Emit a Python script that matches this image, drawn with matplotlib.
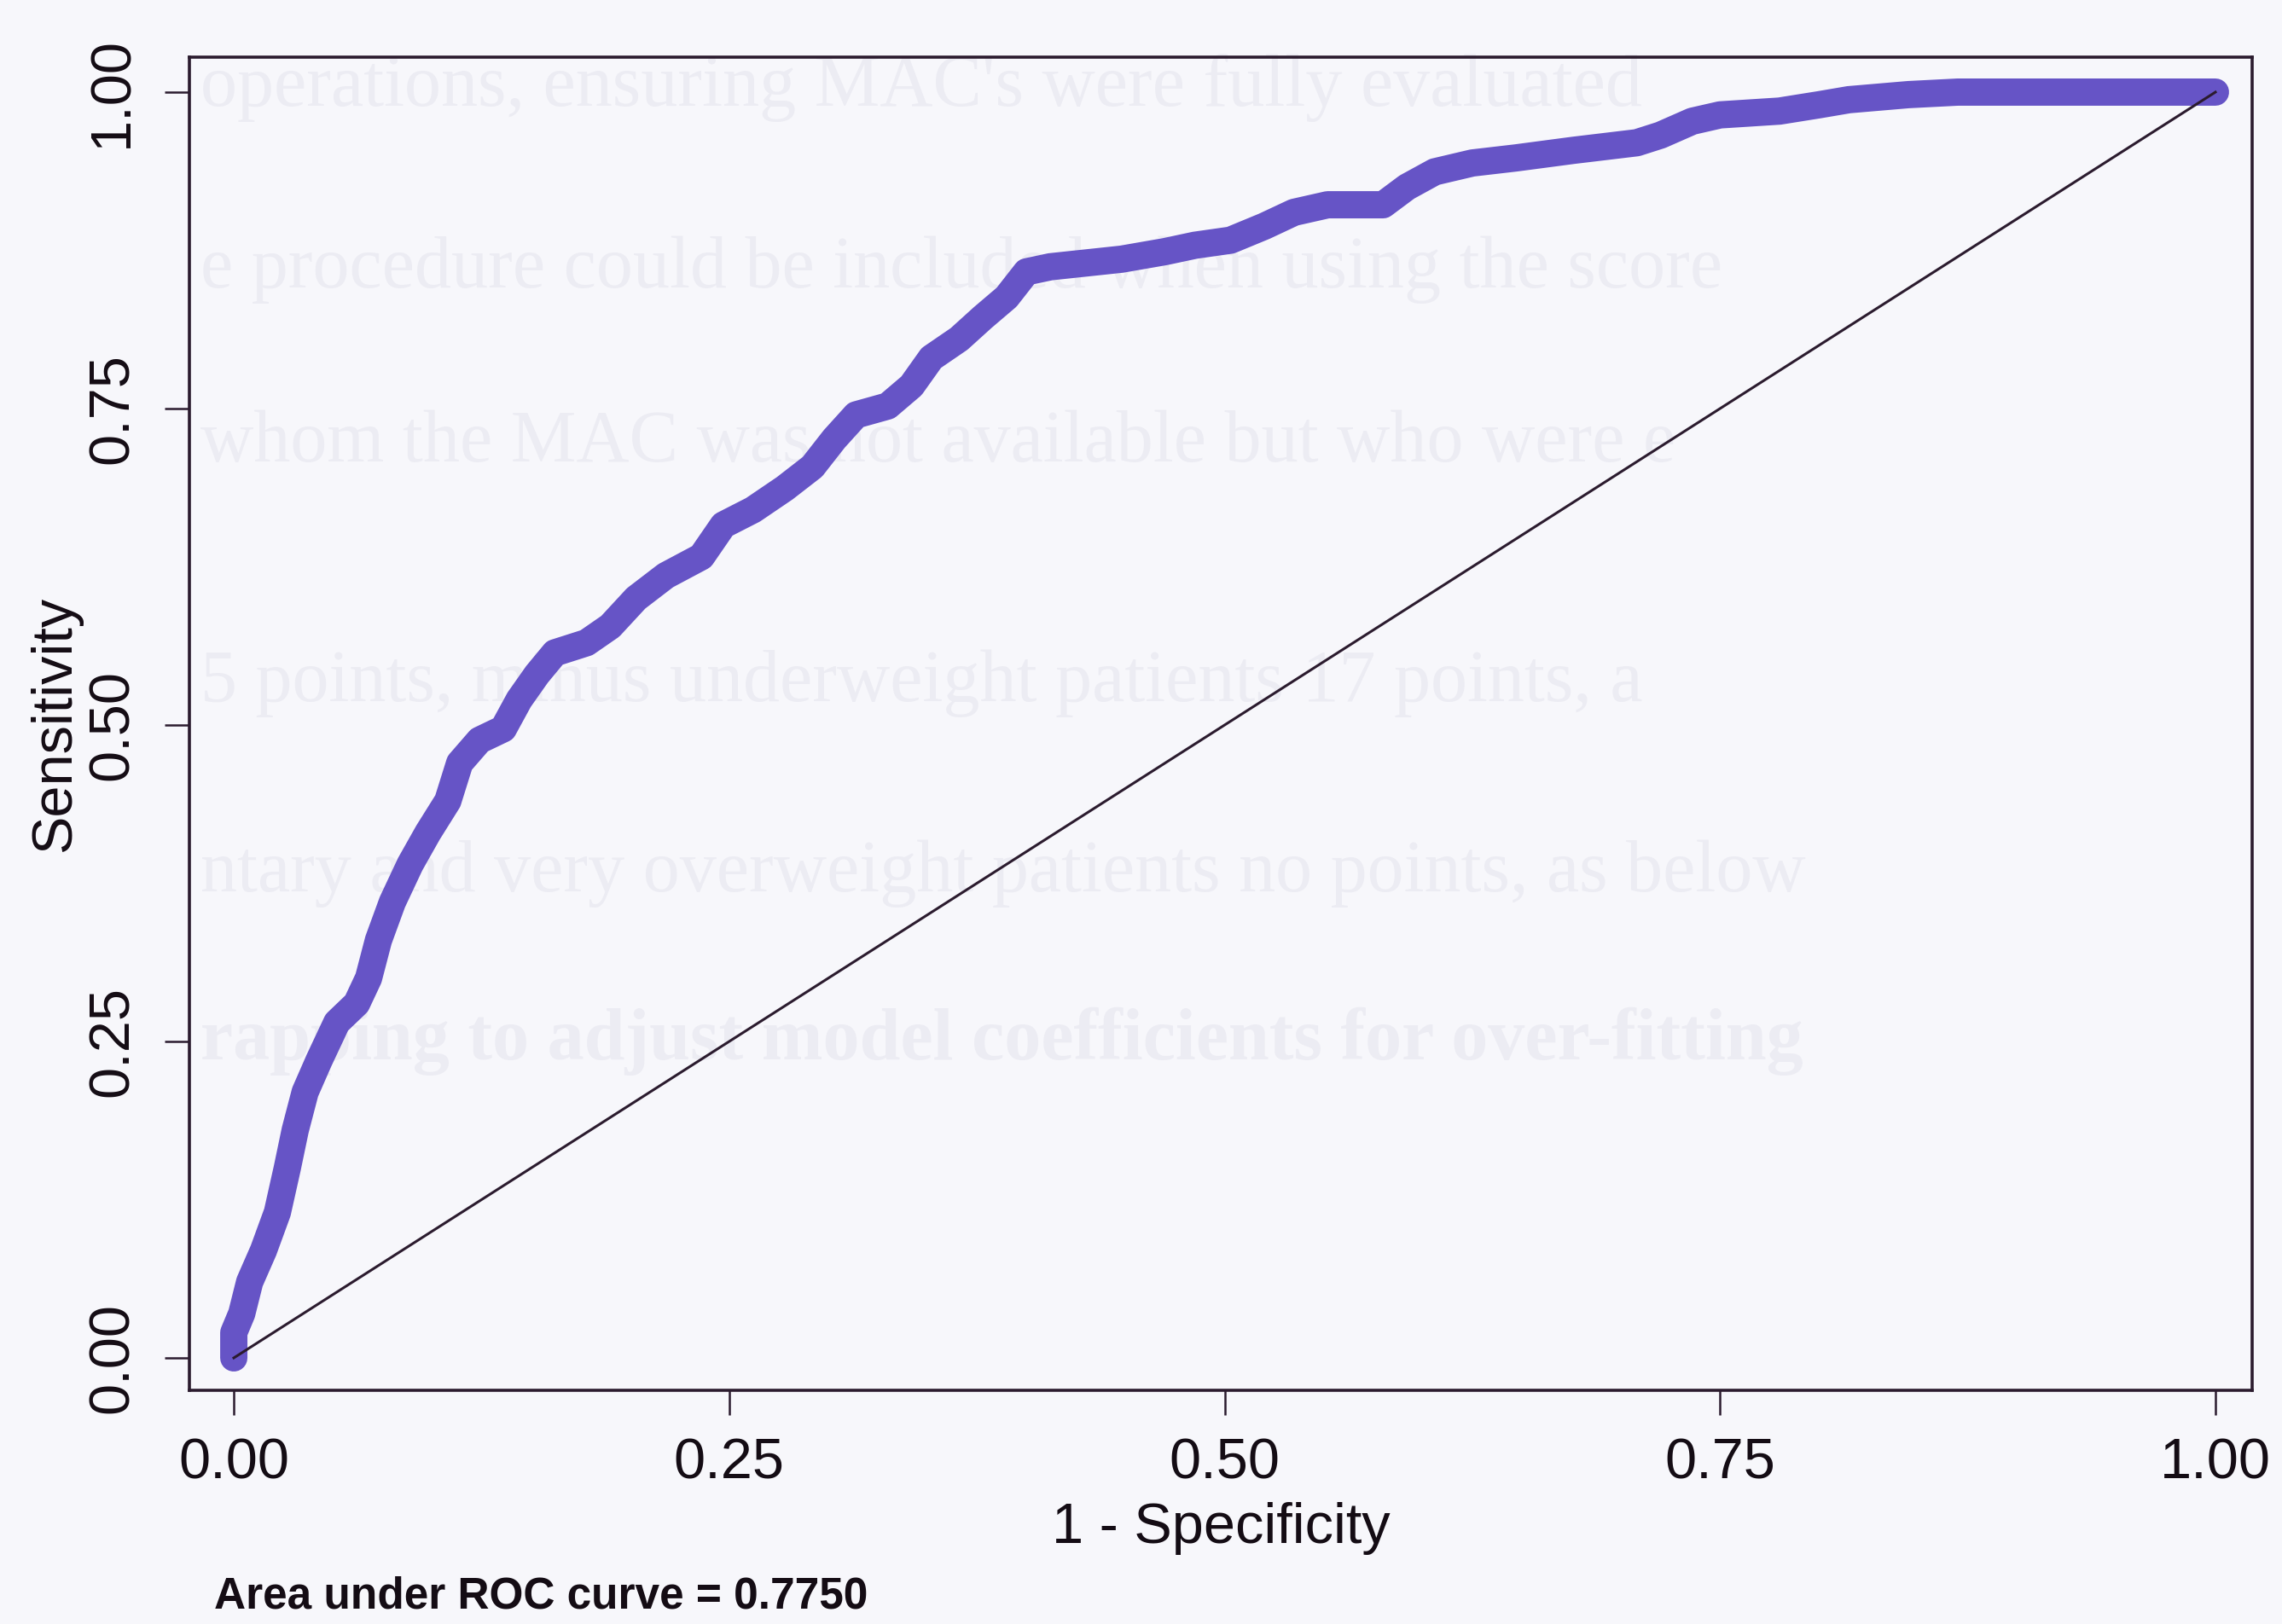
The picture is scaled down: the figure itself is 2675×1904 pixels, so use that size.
import matplotlib
matplotlib.use('Agg')
import matplotlib.pyplot as plt

# ── Data ──────────────────────────────────────────────────────────────────────
fpr = [0.000, 0.000, 0.004, 0.008, 0.015, 0.022, 0.027, 0.031, 0.036, 0.043,
       0.052, 0.062, 0.068, 0.073, 0.080, 0.089, 0.098, 0.108, 0.114, 0.124,
       0.136, 0.144, 0.153, 0.162, 0.178, 0.190, 0.203, 0.218, 0.236, 0.247,
       0.262, 0.278, 0.292, 0.303, 0.314, 0.330, 0.342, 0.352, 0.366, 0.378,
       0.390, 0.400, 0.412, 0.430, 0.448, 0.470, 0.485, 0.503, 0.520, 0.535,
       0.552, 0.580, 0.592, 0.606, 0.625, 0.647, 0.676, 0.708, 0.720, 0.736,
       0.750, 0.780, 0.800, 0.815, 0.845, 0.870, 0.920, 0.960, 1.000]
tpr = [0.000, 0.020, 0.035, 0.060, 0.085, 0.115, 0.150, 0.180, 0.210, 0.235,
       0.265, 0.280, 0.300, 0.330, 0.360, 0.390, 0.415, 0.440, 0.470, 0.488,
       0.497, 0.520, 0.540, 0.557, 0.565, 0.578, 0.600, 0.618, 0.633, 0.658,
       0.670, 0.687, 0.704, 0.726, 0.745, 0.752, 0.768, 0.790, 0.805, 0.822,
       0.838, 0.858, 0.862, 0.865, 0.868, 0.874, 0.879, 0.883, 0.894, 0.905,
       0.911, 0.911, 0.925, 0.937, 0.944, 0.948, 0.954, 0.960, 0.966, 0.977,
       0.982, 0.985, 0.990, 0.994, 0.998, 1.000, 1.000, 1.000, 1.000]
ref_line = [0.0, 1.0]
tick_vals = [0.0, 0.25, 0.5, 0.75, 1.0]
tick_labels = ['0.00', '0.25', '0.50', '0.75', '1.00']
auc_text = 'Area under ROC curve = 0.7750'

# faint show-through text from the scanned page (inside the plot area)
ghost_lines = [
    (0.088, 0.946, "operations, ensuring MAC's were fully evaluated", 'normal'),
    (0.088, 0.834, 'e procedure could be included when using the score', 'normal'),
    (0.088, 0.727, 'whom the MAC was not available but who were e', 'normal'),
    (0.088, 0.579, '5 points, minus underweight patients 17 points, a', 'normal'),
    (0.088, 0.462, 'ntary and very overweight patients no points, as below', 'normal'),
    (0.088, 0.359, 'rapping to adjust model coefficients for over-fitting', 'bold'),
]

# ── Style ─────────────────────────────────────────────────────────────────────
BG = '#f7f7fb'
INK = '#2b1b2e'
TXT = '#140c14'
CURVE = '#6654c6'
GHOST = '#ececf3'
FONT = 'Liberation Sans'

fig = plt.figure(figsize=(26.75, 19.04), dpi=100)
fig.patch.set_facecolor(BG)

for gx, gy, gtxt, gw in ghost_lines:
    fig.text(gx, gy, gtxt, ha='left', va='center', fontsize=62,
             family='Liberation Serif', fontweight=gw, color=GHOST, zorder=-5)

ax = fig.add_axes([0.0830, 0.1439, 0.9039, 0.8209])
ax.set_facecolor('none')

ax.plot(fpr, tpr, color=CURVE, lw=23, solid_joinstyle='round',
        solid_capstyle='round', zorder=3)
ax.plot(ref_line, ref_line, color=INK, lw=2.2, zorder=4)

ax.set_xlim(-0.0224, 1.0185)
ax.set_ylim(-0.0256, 1.0276)

ax.set_xticks(tick_vals)
ax.set_xticklabels(tick_labels)
ax.set_yticks(tick_vals)
ax.set_yticklabels(tick_labels, rotation=90, va='center')

ax.tick_params(axis='both', length=21, width=1.8, color=INK,
               labelsize=48, labelcolor=TXT)
ax.tick_params(axis='x', pad=19)
ax.tick_params(axis='y', pad=21)
for lbl in ax.get_xticklabels() + ax.get_yticklabels():
    lbl.set_family(FONT)

for sp in ax.spines.values():
    sp.set_color(INK)
    sp.set_linewidth(2.6)

ax.set_xlabel('1 - Specificity', fontsize=48, family=FONT, color=TXT,
              labelpad=10)
ax.set_ylabel('Sensitivity', fontsize=48, family=FONT, color=TXT,
              labelpad=4)

fig.text(0.094, 0.0168, auc_text, ha='left', va='center', fontsize=37,
         fontweight='bold', family=FONT, color=TXT)

fig.savefig('out.png', dpi=100, facecolor=fig.get_facecolor())
